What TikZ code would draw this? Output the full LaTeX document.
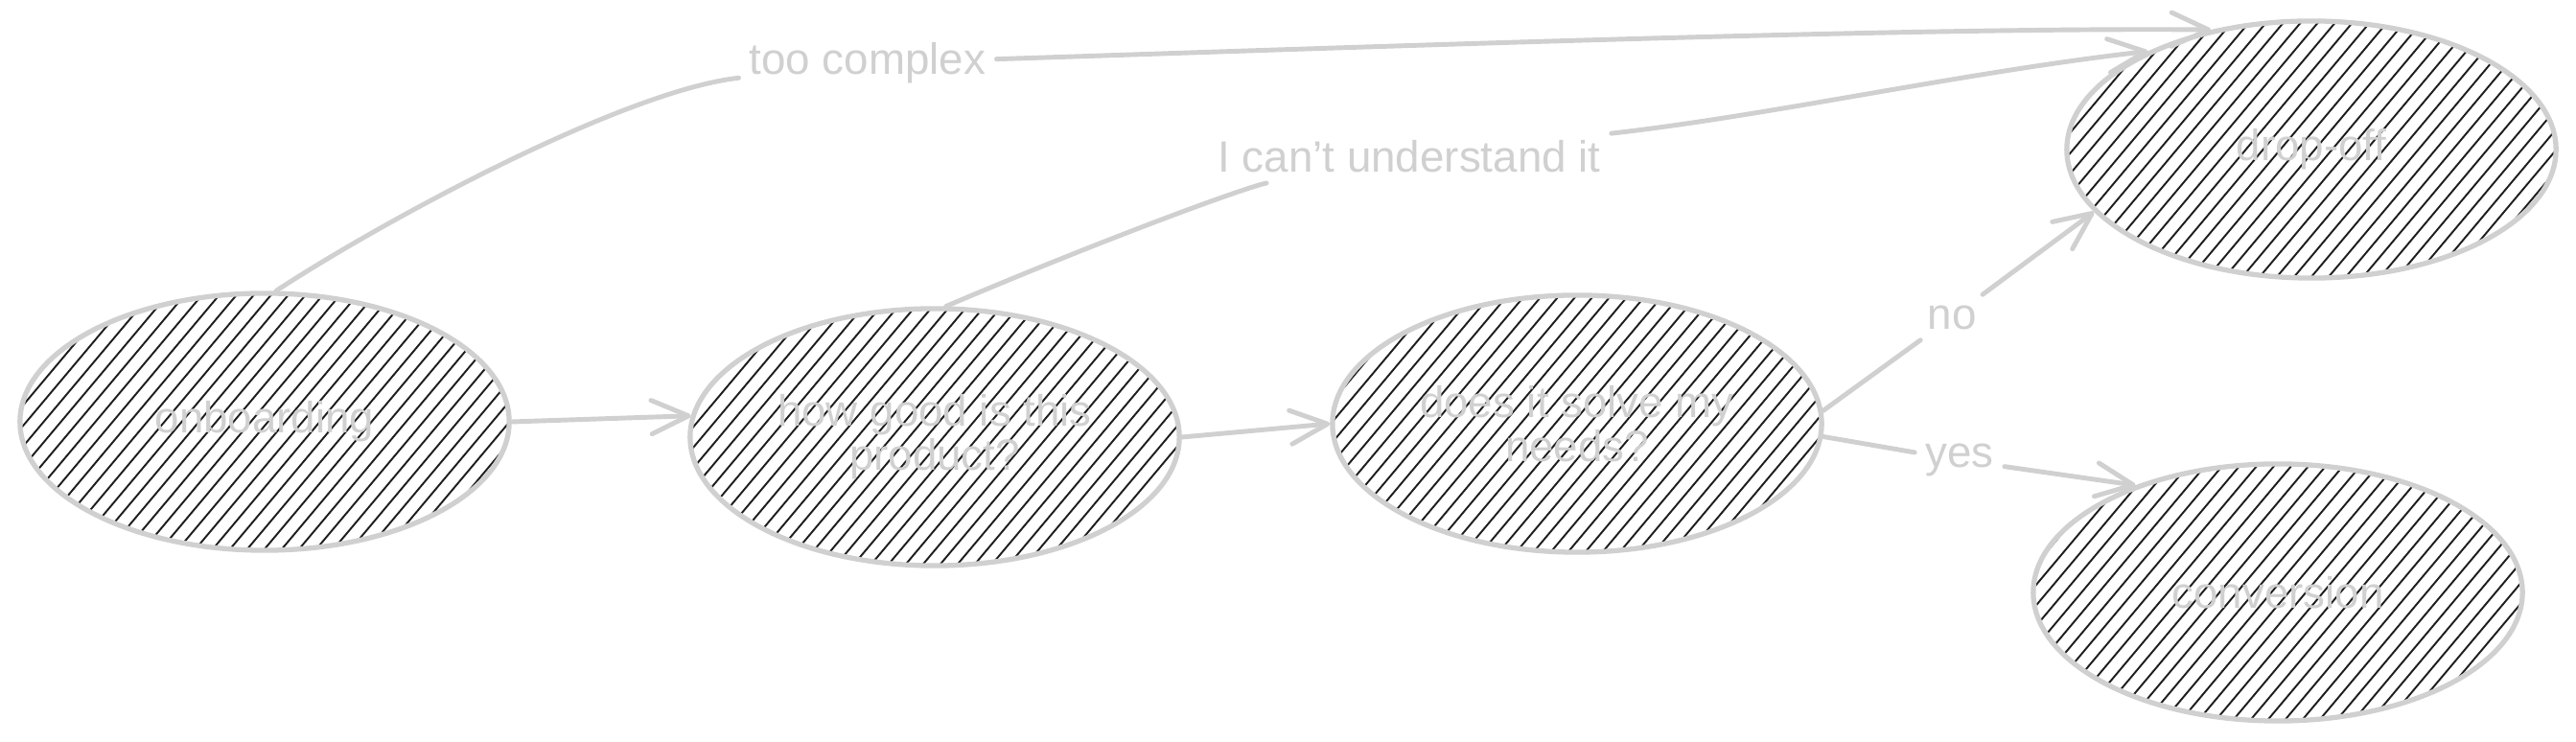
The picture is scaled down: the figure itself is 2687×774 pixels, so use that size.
\documentclass[tikz,border=0pt]{standalone}
\usepackage{fontspec}
\setmainfont{Liberation Sans}
\usetikzlibrary{arrows.meta,shapes.geometric}
\definecolor{sk}{RGB}{208,208,208}
\definecolor{ink}{RGB}{30,30,30}
\begin{document}
\begin{tikzpicture}[x=0.01cm,y=-0.01cm,
  txt/.style={text=sk,font=\fontsize{13}{13}\selectfont},
  state/.style={ellipse, draw=sk, line width=1.5pt, minimum width=5.1cm, minimum height=2.68cm,
    inner sep=0pt, align=center, txt,
    path picture={\foreach \s in {-486,-468,...,486}{\draw[ink, line width=0.55pt,
      shift={(path picture bounding box.center)}] (\s-200,238) -- (\s+200,-238);}}},
  lbl/.style={txt, fill=white, inner sep=3pt},
  seg/.style={draw=sk, line width=1.4pt, line cap=round},
  conn/.style={seg, -{Straight Barb[length=11pt,width=10pt,round]}}]
\useasboundingbox (0,0) rectangle (2687,774);
% states
\node[state] (onb)  at (276,440)  {onboarding};
\node[state] (how)  at (975,456)  {how good is this\\product?};
\node[state] (does) at (1645,442) {does it solve my\\needs?};
\node[state] (drop) at (2411,156) {drop-off};
\node[state] (conv) at (2376,618) {conversion};
% labels
\node[lbl] (l1)   at (905,66)   {too complex};
\node[lbl] (l2)   at (1470,163) {I can't understand it};
\node[lbl] (lno)  at (2036,331) {no};
\node[lbl] (lyes) at (2044,480) {yes};
% connectors
\draw[conn] (onb.east) -- (how.175);
\draw[conn] (how.east) -- (does.west);
\draw[seg]  (onb.85) .. controls (400,230) and (650,95) .. (l1);
\draw[conn] (l1) .. controls (1400,50) and (2000,28) .. (drop.130);
\draw[seg]  (how.85) .. controls (1150,250) and (1300,195) .. (l2);
\draw[conn] (l2) .. controls (1850,120) and (2050,75) .. (drop.149);
\draw[seg]  (does.3) -- (lno);
\draw[conn] (lno) -- (drop.196);
\draw[seg]  (does.-3) -- (lyes);
\draw[conn] (lyes) -- (conv.143);
\end{tikzpicture}
\end{document}
